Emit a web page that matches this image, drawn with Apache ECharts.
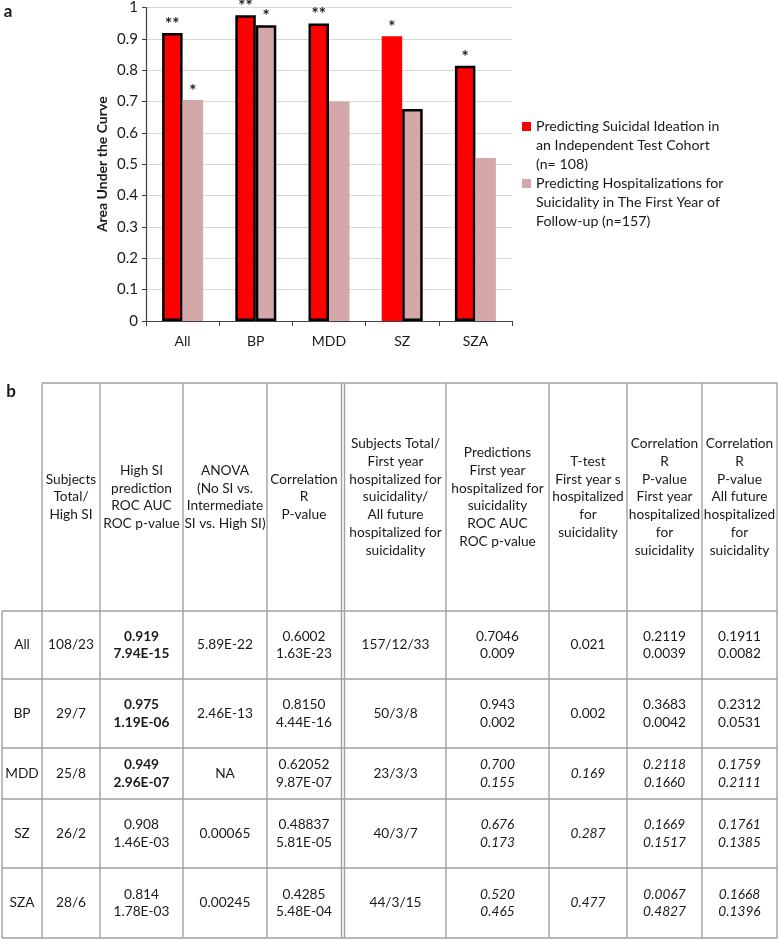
<!DOCTYPE html>
<html>
<head>
<meta charset="utf-8">
<script src="https://cdn.jsdelivr.net/npm/echarts@6/dist/echarts.min.js"></script>
<style>
html,body{margin:0;padding:0;background:#fff;}
#main{width:779px;height:940px;}
</style>
</head>
<body>
<div id="main"></div>
<script>
// ---------- Data ----------
var categories = ['All', 'BP', 'MDD', 'SZ', 'SZA'];
var seriesNames = [
  'Predicting Suicidal Ideation in an Independent Test Cohort (n= 108)',
  'Predicting Hospitalizations for Suicidality in The First Year of Follow-up (n=157)'
];
var legendLines = [
  ['Predicting Suicidal Ideation in', 'an Independent Test Cohort', '(n= 108)'],
  ['Predicting Hospitalizations for', 'Suicidality in The First Year of', 'Follow-up (n=157)']
];
var siStars = ['**', '**', '**', '*', '*'];
var hospStars = ['*', '*', '', '', ''];

var yTicks = ['0', '0.1', '0.2', '0.3', '0.4', '0.5', '0.6', '0.7', '0.8', '0.9', '1'];

var headers = [
  'Subjects\nTotal/\nHigh SI',
  'High SI\nprediction\nROC AUC\nROC p-value',
  'ANOVA\n(No SI vs.\nIntermediate\nSI vs. High SI)',
  'Correlation\nR\nP-value',
  'Subjects Total/\nFirst year\nhospitalized for\nsuicidality/\nAll future\nhospitalized for\nsuicidality',
  'Predictions\nFirst year\nhospitalized for\nsuicidality\nROC AUC\nROC p-value',
  'T-test\nFirst year s\nhospitalized\nfor\nsuicidality',
  'Correlation\nR\nP-value\nFirst year\nhospitalized\nfor\nsuicidality',
  'Correlation\nR\nP-value\nAll future\nhospitalized\nfor\nsuicidality'
];
var rowLabels = ['All', 'BP', 'MDD', 'SZ', 'SZA'];
var subjectsHighSI = ['108/23', '29/7', '25/8', '26/2', '28/6'];
var highSiRocAuc = ['0.919', '0.975', '0.949', '0.908', '0.814'];
var highSiRocP = ['7.94E-15', '1.19E-06', '2.96E-07', '1.46E-03', '1.78E-03'];
var anovaP = ['5.89E-22', '2.46E-13', 'NA', '0.00065', '0.00245'];
var corrR = ['0.6002', '0.8150', '0.62052', '0.48837', '0.4285'];
var corrP = ['1.63E-23', '4.44E-16', '9.87E-07', '5.81E-05', '5.48E-04'];
var subjectsHosp = ['157/12/33', '50/3/8', '23/3/3', '40/3/7', '44/3/15'];
var hospRocAuc = ['0.7046', '0.943', '0.700', '0.676', '0.520'];
var hospRocP = ['0.009', '0.002', '0.155', '0.173', '0.465'];
var ttestP = ['0.021', '0.002', '0.169', '0.287', '0.477'];
var corrFirstR = ['0.2119', '0.3683', '0.2118', '0.1669', '0.0067'];
var corrFirstP = ['0.0039', '0.0042', '0.1660', '0.1517', '0.4827'];
var corrAllR = ['0.1911', '0.2312', '0.1759', '0.1761', '0.1668'];
var corrAllP = ['0.0082', '0.0531', '0.2111', '0.1385', '0.1396'];

// ---------- Styles / layout ----------
var siOutlined = [true, true, true, false, true];
var hospOutlined = [false, true, false, true, false];
var boldSiRows = [true, true, true, false, false];
var italicHospRows = [false, false, true, true, true];

var FONT = 'Lato, "Open Sans", sans-serif';
var TXT = '#1a1a1a';
var LINE = '#a0a0a0';

var colX = [2, 42, 100, 183, 267, 343, 446, 549, 627, 702, 777];
var tableTop = 383;
var rowY = [611, 679, 748, 799, 868, 938];

var siValues = highSiRocAuc.map(Number);
var hospValues = hospRocAuc.map(Number);

// legend icon: a 9px square sitting on the first of three 19px text lines
var LEGEND_ICON = 'path://M0,5h9v9h-9z M0,0h0.01v0.01h-0.01z M0,57h0.01v0.01h-0.01z';

function barData(vals, outlined) {
  return vals.map(function (v, i) {
    return {
      value: v,
      itemStyle: outlined[i] ? { borderColor: '#000', borderWidth: 2.5 } : { borderWidth: 0 }
    };
  });
}

// ---------- Table graphics ----------
var g = [];
function hline(x1, x2, y) {
  g.push({ type: 'line', shape: { x1: x1, y1: y, x2: x2, y2: y }, style: { stroke: LINE, lineWidth: 1.4 }, silent: true });
}
function vline(x, y1, y2) {
  g.push({ type: 'line', shape: { x1: x, y1: y1, x2: x, y2: y2 }, style: { stroke: LINE, lineWidth: 1.4 }, silent: true });
}
function text(str, x, y, opts) {
  opts = opts || {};
  g.push({
    type: 'text', silent: true,
    style: {
      text: str, x: x, y: y, align: 'center', verticalAlign: 'middle',
      fontFamily: FONT, fontSize: opts.size || 13.7, fontWeight: opts.bold ? 'bold' : 'normal',
      fontStyle: opts.italic ? 'italic' : 'normal', lineHeight: opts.lh || 17.7, fill: TXT
    }
  });
}

// panel letters
text('a', 8, 12, { size: 17, bold: true });
text('b', 11, 392, { size: 17, bold: true });

// grid lines
hline(colX[1], colX[10], tableTop);
rowY.forEach(function (y) { hline(colX[0], colX[10], y); });
vline(colX[0], rowY[0], rowY[5]);
for (var c = 1; c < colX.length; c++) {
  if (c === 5) {
    vline(colX[c] - 1.5, tableTop, rowY[5]);
    vline(colX[c] + 1.5, tableTop, rowY[5]);
  } else {
    vline(colX[c], tableTop, rowY[5]);
  }
}

// headers
headers.forEach(function (h, i) {
  var x = (colX[i + 1] + colX[i + 2]) / 2 + (i === 3 ? -1 : (i === 4 ? 1 : 0));
  text(h, x, (tableTop + rowY[0]) / 2);
});

// body
var columns = [
  function (r) { return [subjectsHighSI[r]]; },
  function (r) { return [highSiRocAuc[r], highSiRocP[r]]; },
  function (r) { return [anovaP[r]]; },
  function (r) { return [corrR[r], corrP[r]]; },
  function (r) { return [subjectsHosp[r]]; },
  function (r) { return [hospRocAuc[r], hospRocP[r]]; },
  function (r) { return [ttestP[r]]; },
  function (r) { return [corrFirstR[r], corrFirstP[r]]; },
  function (r) { return [corrAllR[r], corrAllP[r]]; }
];
rowLabels.forEach(function (lab, r) {
  var cy = (rowY[r] + rowY[r + 1]) / 2;
  text(lab, (colX[0] + colX[1]) / 2, cy);
  columns.forEach(function (fn, c) {
    var x = (colX[c + 1] + colX[c + 2]) / 2 + (c === 3 ? -1 : (c === 4 ? 1 : 0));
    text(fn(r).join('\n'), x, cy, {
      bold: c === 1 && boldSiRows[r],
      italic: c >= 5 && italicHospRows[r]
    });
  });
});

// ---------- Chart ----------
var chart = echarts.init(document.getElementById('main'), null, { renderer: 'canvas' });
chart.setOption({
  animation: false,
  backgroundColor: '#fff',
  textStyle: { fontFamily: FONT },
  grid: { left: 146, right: 267, top: 7, bottom: 619 },
  legend: {
    orient: 'vertical', left: 517, top: 112,
    itemWidth: 9, itemHeight: 57, itemGap: 0,
    data: seriesNames.map(function (n) { return { name: n, icon: LEGEND_ICON }; }),
    formatter: function (name) { return legendLines[seriesNames.indexOf(name)].join('\n'); },
    textStyle: { fontFamily: FONT, fontSize: 14.2, lineHeight: 19, color: TXT }
  },
  xAxis: {
    type: 'category', data: categories,
    axisLine: { lineStyle: { color: '#404040', width: 1.2 } },
    axisTick: { show: true, alignWithLabel: false, length: 5, lineStyle: { color: '#404040' } },
    axisLabel: { fontFamily: FONT, fontSize: 14, color: TXT, margin: 13 }
  },
  yAxis: {
    type: 'value', min: 0, max: 1, interval: 0.1,
    name: 'Area Under the Curve', nameLocation: 'middle', nameGap: 37,
    nameTextStyle: { fontFamily: FONT, fontSize: 14, fontWeight: 'bold', color: TXT },
    axisLine: { show: true, lineStyle: { color: '#404040', width: 1.2 } },
    axisTick: { show: true, length: 4, lineStyle: { color: '#404040' } },
    axisLabel: {
      fontFamily: FONT, fontSize: 15, color: TXT, margin: 8,
      formatter: function (v) { return yTicks[Math.round(v * 10)]; }
    },
    splitLine: { lineStyle: { color: '#d9d9d9', width: 1 } }
  },
  series: [
    {
      name: seriesNames[0], type: 'bar', barWidth: 20.5, barGap: '0%',
      itemStyle: { color: '#ff0000' },
      data: barData(siValues, siOutlined),
      label: {
        show: true, position: 'top', distance: 0, fontFamily: FONT, fontSize: 17, fontWeight: 'bold', color: TXT,
        formatter: function (p) { return siStars[p.dataIndex]; }
      }
    },
    {
      name: seriesNames[1], type: 'bar', barWidth: 20.5, barGap: '0%',
      itemStyle: { color: '#d4a8a8' },
      data: barData(hospValues, hospOutlined),
      label: {
        show: true, position: 'top', distance: 0, fontFamily: FONT, fontSize: 17, fontWeight: 'bold', color: TXT,
        formatter: function (p) { return hospStars[p.dataIndex]; }
      }
    }
  ],
  graphic: g
});
</script>
</body>
</html>
